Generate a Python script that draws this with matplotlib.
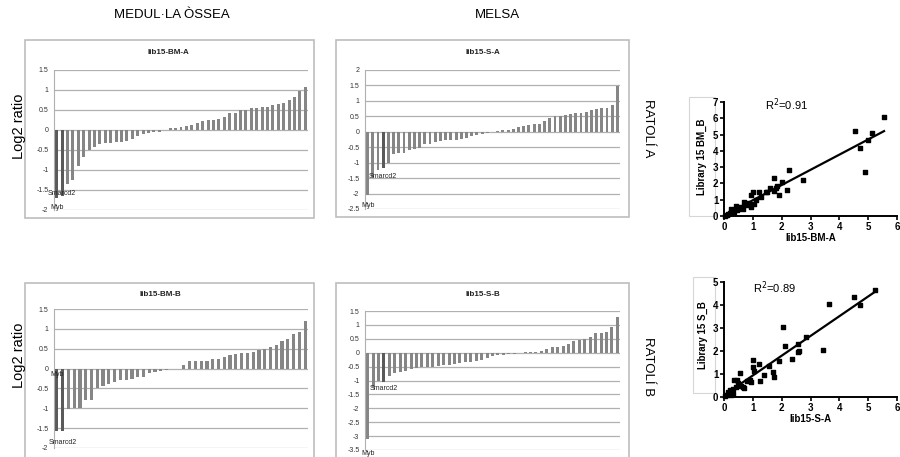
import numpy as np
import matplotlib
matplotlib.use("Agg")
import matplotlib.pyplot as plt
from matplotlib.patches import Rectangle

plt.rcParams['font.family'] = ['Liberation Sans', 'DejaVu Sans']

W, H = 900, 457

# log2 ratios, sorted, per library
bm_a = [-1.70, -1.65, -1.35, -1.25, -0.90, -0.68, -0.50, -0.42, -0.35, -0.33,
        -0.32, -0.30, -0.30, -0.28, -0.22, -0.15, -0.10, -0.08, -0.06, -0.05,
        0.00, 0.05, 0.05, 0.07, 0.10, 0.13, 0.18, 0.22, 0.25, 0.26,
        0.27, 0.33, 0.42, 0.42, 0.50, 0.50, 0.55, 0.56, 0.58, 0.58,
        0.62, 0.66, 0.68, 0.75, 0.82, 0.97, 1.07]
s_a = [-2.05, -1.45, -1.25, -1.18, -1.00, -0.72, -0.70, -0.68, -0.60, -0.55,
       -0.52, -0.40, -0.38, -0.32, -0.30, -0.28, -0.27, -0.26, -0.25, -0.20,
       -0.15, -0.10, -0.08, -0.03, 0.00, 0.02, 0.05, 0.06, 0.08, 0.15,
       0.18, 0.22, 0.25, 0.25, 0.35, 0.45, 0.50, 0.50, 0.55, 0.58,
       0.60, 0.62, 0.65, 0.70, 0.75, 0.76, 0.77, 0.88, 1.48]
bm_b = [-1.58, -1.58, -1.02, -1.00, -1.00, -0.80, -0.78, -0.50, -0.45, -0.38,
        -0.33, -0.30, -0.28, -0.25, -0.20, -0.20, -0.12, -0.08, -0.05, -0.03,
        -0.02, -0.02, 0.08, 0.18, 0.18, 0.18, 0.20, 0.25, 0.25, 0.28,
        0.33, 0.37, 0.38, 0.40, 0.42, 0.48, 0.50, 0.55, 0.60, 0.70,
        0.75, 0.88, 0.93, 1.20]
s_b = [-3.10, -1.25, -1.00, -1.05, -0.85, -0.72, -0.70, -0.65, -0.60, -0.55,
       -0.52, -0.50, -0.50, -0.48, -0.45, -0.43, -0.40, -0.38, -0.35, -0.32,
       -0.30, -0.28, -0.20, -0.12, -0.10, -0.08, -0.05, -0.03, -0.02, 0.02,
       0.03, 0.04, 0.05, 0.12, 0.20, 0.22, 0.25, 0.30, 0.42, 0.45,
       0.48, 0.58, 0.70, 0.70, 0.75, 0.92, 1.28]

# gene labels: (name, bar index, y position of label)
bm_a_labels = [("Smarcd2", 1, -1.58), ("Myb", 0, -1.93)]
s_a_labels = [("Smarcd2", 3, -1.46), ("Myb", 0, -2.39)]
bm_b_labels = [("Myb", 0, -0.14), ("Smarcd2", 1, -1.87)]
s_b_labels = [("Smarcd2", 3, -1.30), ("Myb", 0, -3.62)]

# replicate correlation (scatter plots)
bm_lib_a = [5.55, 4.55, 5.15, 5.0, 4.7, 4.9, 2.25, 2.75, 1.75, 2.0, 1.85, 1.8,
            2.2, 1.9, 1.75, 1.5, 1.3, 1.2, 1.45, 1.0, 0.95, 1.05, 0.9, 0.8,
            0.7, 0.95, 0.6, 0.5, 0.4, 0.45, 0.3, 0.25, 0.2, 0.15, 0.1, 0.3,
            0.55, 0.75, 1.1, 1.6, 0.05, 0.35, 0.65, 0.85]
bm_lib_b = [6.1, 5.2, 5.1, 4.65, 4.15, 2.7, 2.8, 2.2, 2.35, 2.1, 1.85, 1.7,
            1.6, 1.3, 1.55, 1.5, 1.15, 1.5, 1.45, 1.5, 1.3, 0.75, 0.7, 0.8,
            0.85, 0.55, 0.5, 0.45, 0.6, 0.35, 0.35, 0.4, 0.2, 0.15, 0.05, 0.2,
            0.55, 0.7, 1.0, 1.7, 0.02, 0.25, 0.4, 0.75]
s_lib_a = [5.25, 4.5, 4.7, 3.65, 3.45, 2.05, 2.1, 2.85, 2.55, 2.6, 2.55, 2.35,
           1.9, 1.55, 1.7, 1.75, 1.4, 1.25, 1.2, 1.0, 1.0, 1.05, 0.9, 0.95,
           0.8, 0.55, 0.45, 0.35, 0.5, 0.6, 0.65, 0.4, 0.3, 0.2, 0.15, 0.1,
           0.25, 0.3, 0.7, 0.05]
s_lib_b = [4.65, 4.35, 4.0, 4.05, 2.05, 3.05, 2.2, 2.6, 2.3, 2.0, 1.95, 1.65,
           1.55, 1.35, 1.1, 0.85, 0.95, 0.7, 1.45, 1.6, 1.3, 1.15, 0.75, 0.65,
           0.7, 1.05, 0.75, 0.75, 0.6, 0.5, 0.45, 0.45, 0.35, 0.3, 0.2, 0.1,
           0.1, 0.15, 0.4, 0.05]


def px_axes(fig, x0, y0, x1, y1):
    return fig.add_axes([x0 / W, 1 - y1 / H, (x1 - x0) / W, (y1 - y0) / H])


def px_text(fig, x, y, s, **kw):
    return fig.text(x / W, 1 - y / H, s, **kw)


def frame(fig, x0, y0, x1, y1, ec='#bdbdbd', lw=1.2):
    fig.add_artist(Rectangle((x0 / W, 1 - y1 / H), (x1 - x0) / W, (y1 - y0) / H,
                             transform=fig.transFigure, fc='white', ec=ec,
                             lw=lw, zorder=0))


def bar_panel(fig, box, fbox, values, ylim, title, title_x, title_y, labels, dark):
    frame(fig, *fbox)
    ax = px_axes(fig, *box)
    ax.set_facecolor('none')
    idx = np.arange(len(values))
    colors = ['#5a5a5a' if i in dark else '#868686' for i in idx]
    ax.bar(idx, values, width=0.55, color=colors, zorder=2)
    ax.set_xlim(-0.5, len(values) - 0.5)
    ax.set_ylim(*ylim)
    ax.set_yticks(np.arange(ylim[0], ylim[1] + 0.25, 0.5))
    ax.yaxis.set_major_formatter(lambda v, p: f'{v:g}')
    ax.yaxis.grid(True, color='#b0b0b0', lw=0.9)
    ax.set_axisbelow(True)
    for s in ['top', 'right', 'bottom']:
        ax.spines[s].set_visible(False)
    ax.spines['left'].set_color('#b0b0b0')
    ax.set_xticks([])
    ax.tick_params(axis='y', length=0, labelsize=5, labelcolor='#333333', pad=4)
    px_text(fig, title_x, title_y, title, ha='center', va='center',
            fontsize=5.8, fontweight='bold', color='#222222')
    for name, i, v in labels:
        ax.text(i, v, name, ha='center', va='center', fontsize=5,
                color='#222222', zorder=4, clip_on=False)
    return ax


def scatter_panel(fig, box, xs, ys, ymax, xlabel, ylabel, r2, r2_xy, lab_box, lab_x):
    lx0, ly0, lx1, ly1 = lab_box
    frame(fig, lx0, ly0, lx1, ly1, ec='#d6d6d6', lw=0.8)
    px_text(fig, lab_x, (ly0 + ly1) / 2, ylabel, rotation=90, ha='center',
            va='center', fontsize=7, fontweight='bold')
    ax = px_axes(fig, *box)
    ax.set_facecolor('none')
    ax.scatter(xs, ys, marker='s', s=10, color='black', zorder=3, clip_on=False)
    k, b = np.polyfit(xs, ys, 1)
    xx = np.array([min(xs), max(xs)])
    ax.plot(xx, k * xx + b, color='black', lw=1.6, zorder=2)
    ax.set_xlim(0, 6)
    ax.set_ylim(0, ymax)
    ax.set_xticks(range(0, 7))
    ax.set_yticks(range(0, ymax + 1))
    for s in ['top', 'right']:
        ax.spines[s].set_visible(False)
    for s in ['left', 'bottom']:
        ax.spines[s].set_linewidth(1.4)
    ax.tick_params(direction='out', length=3, width=1.2, labelsize=7, pad=1)
    for t in ax.get_xticklabels() + ax.get_yticklabels():
        t.set_fontweight('bold')
    ax.set_xlabel(xlabel, fontsize=7, fontweight='bold', labelpad=1)
    px_text(fig, r2_xy[0], r2_xy[1], r2, ha='center', va='center', fontsize=8)
    return ax


fig = plt.figure(figsize=(W / 100, H / 100), dpi=100)

px_text(fig, 172, 15, "MEDUL·LA ÒSSEA", ha='center', va='center', fontsize=9.5)
px_text(fig, 497, 15, "MELSA", ha='center', va='center', fontsize=9.5)
px_text(fig, 19, 126, "Log2 ratio", rotation=90, ha='center', va='center', fontsize=10.5)
px_text(fig, 19, 355, "Log2 ratio", rotation=90, ha='center', va='center', fontsize=10.5)
px_text(fig, 648, 128, "RATOLÍ A", rotation=270, ha='center', va='center', fontsize=9.5)
px_text(fig, 648, 367, "RATOLÍ B", rotation=270, ha='center', va='center', fontsize=9.5)

bar_panel(fig, (54, 70, 308, 210), (25, 40, 314, 218), bm_a, (-2, 1.5),
          "lib15-BM-A", 168, 52, bm_a_labels, [0, 1])
bar_panel(fig, (365, 70, 620, 209), (336, 40, 629, 217), s_a, (-2.5, 2),
          "lib15-S-A", 483, 52, s_a_labels, [3])
bar_panel(fig, (54, 309, 308, 448), (25, 283, 314, 470), bm_b, (-2, 1.5),
          "lib15-BM-B", 160, 295, bm_b_labels, [0, 1])
bar_panel(fig, (365, 311, 620, 450), (336, 283, 629, 470), s_b, (-3.5, 1.5),
          "lib15-S-B", 483, 295, s_b_labels, [3])

scatter_panel(fig, (724, 102, 897, 216), bm_lib_a, bm_lib_b, 7, "lib15-BM-A",
              "Library 15 BM_B", r"R$^2$=0.91", (787, 105), (689, 97, 715, 216), 702)
scatter_panel(fig, (724, 282, 897, 397), s_lib_a, s_lib_b, 5, "lib15-S-A",
              "Library 15 S_B", r"R$^2$=0.89", (775, 288), (693, 277, 715, 393), 703)

fig.savefig("out.png", dpi=100)
